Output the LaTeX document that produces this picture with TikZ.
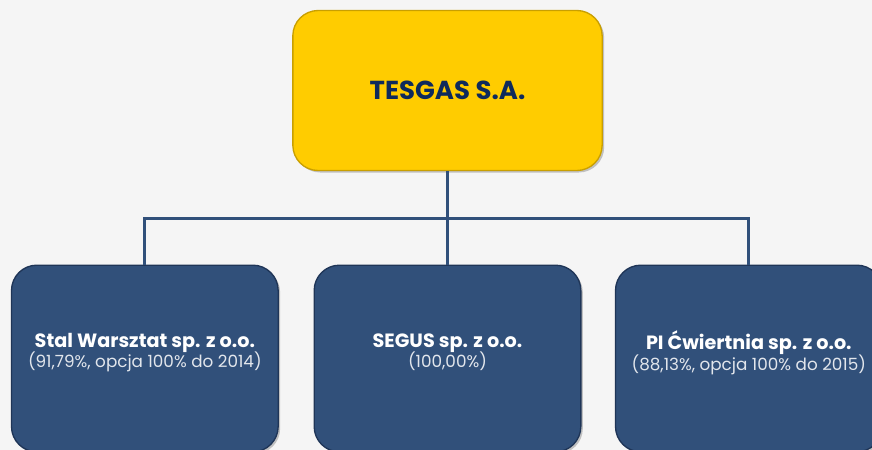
\documentclass[tikz,border=0pt]{standalone}
\usepackage{fontspec}
\setmainfont{Poppins}
\usetikzlibrary{calc,shadows}
\usetikzlibrary{positioning}

\definecolor{pagebg}{HTML}{F5F5F5}
\definecolor{gold}{HTML}{FFCC00}
\definecolor{golddark}{HTML}{C99F00}
\definecolor{navy}{HTML}{0E2A5C}
\definecolor{slate}{HTML}{31507A}
\definecolor{slatedark}{HTML}{1F3557}
\definecolor{subgray}{HTML}{E2E6EC}

\newcommand{\sharefont}{\fontsize{12.6}{15}\selectfont\mdseries\color{subgray}}

\tikzset{
    company/.style = {rounded corners=19pt, line width=1pt, align=center,
        drop shadow={shadow xshift=1.5pt, shadow yshift=-1.5pt, opacity=.45}},
    parentbox/.style = {company, fill=gold, draw=golddark,
        minimum width=232pt, minimum height=120pt, text=navy,
        font=\fontsize{19.5}{22}\selectfont\bfseries},
    childbox/.style = {company, fill=slate, draw=slatedark,
        minimum width=200pt, minimum height=140pt, text=white,
        font=\fontsize{14.4}{16}\selectfont\bfseries},
    link/.style = {line width=2.2pt, draw=slate}
}

\begin{document}
\begin{tikzpicture}[x=0.75pt, y=-0.75pt]
        \fill[pagebg] (0,0) rectangle (872,450);
        \useasboundingbox (0,0) rectangle (872,450);

        \node[parentbox] (tesgas) at (447.5,90.5) {TESGAS S.A.};
        \node[childbox, below = 70pt of tesgas] (segus)
            {SEGUS sp. z o.o.\\[-0.5pt]{\sharefont (100,00\%)}\\[-4pt]};
        \node[childbox, left = 26pt of segus] (stal)
            {Stal Warsztat sp. z o.o.\\[-0.5pt]{\sharefont (91,79\%, opcja 100\% do 2014)}\\[-4pt]};
        \node[childbox, right = 25pt of segus] (cwiertnia)
            {PI Ćwiertnia sp. z o.o.\\[-0.5pt]{\sharefont (88,13\%, opcja 100\% do 2015)}\\[-4pt]};

        % connectors
        \coordinate (bus) at ($(tesgas.south)+(0,47)$);
        \draw[link] (tesgas.south) -- (segus.north);
        \draw[link] (stal.north) |- (bus) -| (cwiertnia.north);
\end{tikzpicture}
\end{document}
